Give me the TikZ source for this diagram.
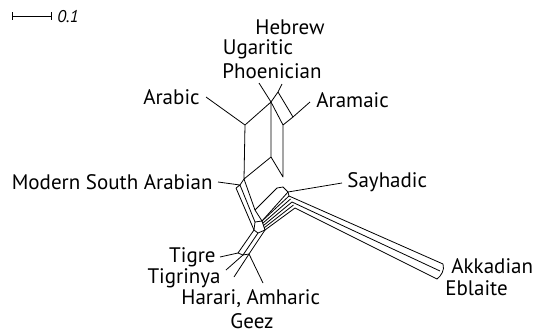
\documentclass[tikz,border=0pt]{standalone}
\usepackage{fontspec}
\setmainfont{PT Sans}
\usetikzlibrary{calc}

\begin{document}
\begin{tikzpicture}[x=1pt,y=-1pt,line width=0.8pt,line join=round,
  lang/.style={font=\fontsize{21}{24}\selectfont,inner sep=0pt},
  scl/.style={font=\itshape\fontsize{17}{19}\selectfont,inner sep=0pt}]
\useasboundingbox (0,0) rectangle (536,333);
% scale bar
\coordinate (bar0) at (12,16); \coordinate (bar1) at (51,16);
\draw (bar0) -- (bar1) ($(bar0)+(0,-4)$) -- ($(bar0)+(0,4)$) ($(bar1)+(0,-4)$) -- ($(bar1)+(0,4)$);
\node[scl,anchor=west] (sclabel) at (57,17) {0.1};
% upper box (Arabic / Canaanite / Aramaic)
\coordinate (a1) at (245,125); \coordinate (a2) at (244,179); \coordinate (p1) at (271,102); \coordinate (p2) at (271,157);
\coordinate (q1) at (278,92); \coordinate (r1) at (293,117); \coordinate (t1) at (283,125); \coordinate (t2) at (283,177);
\coordinate (arab) at (206,97); \coordinate (phoe) at (259,83); \coordinate (ugar) at (282,84); \coordinate (aram) at (310,102);
\draw (arab) -- (a1) -- (a2) -- (p2) -- (p1) -- (a1);
\draw (phoe) -- (p1) -- (q1) -- (ugar) (q1) -- (r1) -- (aram) (r1) -- (t1) -- (p1) (t1) -- (t2) -- (p2);
% middle
\coordinate (m0) at (236,188); \coordinate (m1) at (240,185); \coordinate (msa) at (218,182); \coordinate (x1) at (255,210);
\coordinate (tt) at (277,188); \coordinate (uu) at (283,187); \coordinate (vv) at (288,192); \coordinate (sayh) at (342,183);
\coordinate (b1) at (255,222); \coordinate (b2) at (262,221); \coordinate (b3) at (265,230); \coordinate (b4) at (258,233); \coordinate (b5) at (254,230);
\draw (msa) -- (m1) -- (a2) (m1) -- (m0) (m0) -- (b5) (m1) -- (b1) (a2) -- (x1) -- (b2);
\draw (x1) -- (tt) -- (uu) -- (vv) -- (sayh) (vv) -- (b2);
\draw (b1) -- (b2) -- (b3) -- (b4) -- (b5) -- cycle;
% band to Akkadian / Eblaite
\coordinate (k1s) at (289,196); \coordinate (k2s) at (292,202); \coordinate (k3s) at (295,208);
\coordinate (k1e) at (443,264); \coordinate (k2e) at (440,271); \coordinate (k3e) at (437,279);
\draw (vv) -- (k1s) (k1s) -- (k1e) (k2s) -- (k2e) (k3s) -- (k3e);
\foreach \i in {0,...,4} \draw ($(b2)!\i/4!(b3)$) -- ($(k1s)!\i/4!(k3s)$);
\draw (k1e) .. controls (445,270) and (441,276) .. (k3e);
% lower (Ethiopic)
\coordinate (g1) at (238,253); \coordinate (g2) at (243,255); \coordinate (g3) at (249,254);
\coordinate (tigre) at (220,257); \coordinate (tigr) at (226,270); \coordinate (hara) at (234,277); \coordinate (geez) at (263,283);
\draw (b5) -- (g1) (b4) -- (g2) (b3) -- (g3) (g1) -- (g2) -- (g3);
\draw (g1) -- (tigre) (g2) -- (tigr) (g3) -- (hara) (g3) -- (geez);
% labels
\node[lang] (hebrew) at (290,27) {Hebrew}; \node[lang] (ugaritic) at (258,49) {Ugaritic}; \node[lang] (phoenician) at (272,71) {Phoenician};
\node[lang,anchor=east] (arabic) at (200,97) {Arabic}; \node[lang,anchor=west] (aramaic) at (316,100) {Aramaic};
\node[lang,anchor=east] (msalabel) at (213,182) {Modern South Arabian}; \node[lang,anchor=west] (sayhadic) at (347,182) {Sayhadic};
\node[lang,anchor=west] (akkadian) at (451,266) {Akkadian}; \node[lang,anchor=west] (eblaite) at (445,288) {Eblaite};
\node[lang,anchor=east] (tigrelabel) at (216,257) {Tigre}; \node[lang,anchor=east] (tigrinya) at (221,278) {Tigrinya};
\node[lang,anchor=west] (harari) at (181,299) {Harari, Amharic}; \node[lang,anchor=base] (geezlabel) at (252,328) {Geez};
\end{tikzpicture}
\end{document}
